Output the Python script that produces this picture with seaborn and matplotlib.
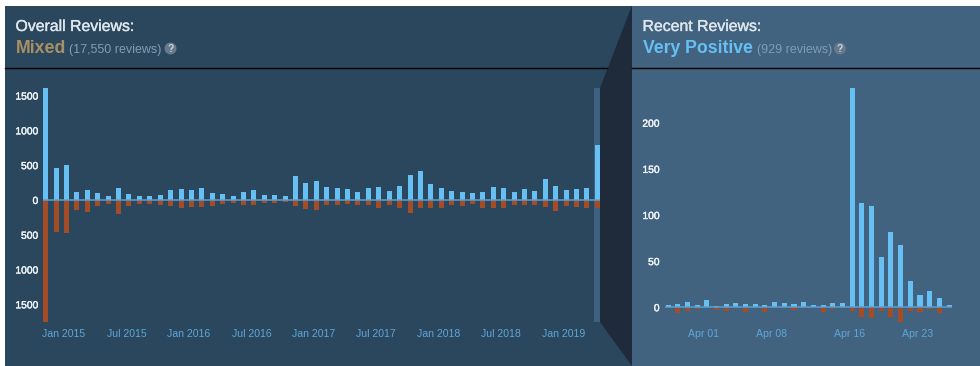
import matplotlib
matplotlib.use("Agg")
import matplotlib.pyplot as plt
import matplotlib.patheffects as pe
from matplotlib.patches import Polygon, Rectangle, Circle
import numpy as np
import pandas as pd
import seaborn as sns

overall_pos = [1613, 455, 498, 110, 139, 96, 53, 168, 81, 62, 53, 67, 139, 158, 139, 168, 100, 86, 62, 110,
               148, 72, 72, 53, 345, 244, 273, 192, 168, 153, 115, 177, 187, 125, 196, 364, 417, 225, 172, 125,
               110, 105, 115, 182, 168, 115, 153, 125, 297, 206, 139, 153, 168, 795]
overall_neg = [1750, 455, 479, 144, 172, 81, 62, 201, 91, 62, 62, 67, 81, 110, 100, 105, 86, 62, 38, 72,
               67, 38, 38, 34, 81, 129, 144, 77, 72, 53, 67, 72, 120, 67, 115, 182, 120, 110, 115, 77,
               81, 53, 110, 110, 115, 67, 72, 67, 96, 153, 81, 96, 115, 115]
overall_ticks = [2, 8, 14, 20, 26, 32, 38, 44, 50]
overall_labels = ["Jan 2015", "Jul 2015", "Jan 2016", "Jul 2016", "Jan 2017", "Jul 2017", "Jan 2018", "Jul 2018", "Jan 2019"]
overall_yticks = [-1500, -1000, -500, 0, 500, 1000, 1500]

recent_pos = [2, 3, 6, 2, 8, 1, 4, 5, 4, 4, 2, 6, 5, 4, 6, 2, 2, 5, 5, 238, 113, 110, 54, 82, 67, 28, 13, 18, 10, 2]
recent_neg = [1, 6, 4, 2, 1, 3, 4, 1, 5, 1, 5, 1, 1, 3, 1, 0, 5, 2, 1, 4, 11, 12, 4, 11, 16, 4, 5, 2, 6, 1]
recent_ticks = [4, 11, 19, 26]
recent_labels = ["Apr 01", "Apr 08", "Apr 16", "Apr 23"]
recent_yticks = [0, 50, 100, 150, 200]

BLUE, RUST = "#66c0f4", "#a34c25"
LEFT_BG, RIGHT_BG, WEDGE, BAND = "#2a475e", "#41637f", "#1f2b3b", "#3d6180"
W, H = 980, 366
FONT = ["Liberation Sans", "DejaVu Sans"]
plt.rcParams["font.family"] = FONT

fig = plt.figure(figsize=(W / 100, H / 100), dpi=100, facecolor="white")
bg = fig.add_axes([0, 0, 1, 1])
bg.set_xlim(0, W)
bg.set_ylim(H, 0)
bg.axis("off")
bg.add_patch(Rectangle((5, 5.5), 627, H, color=LEFT_BG, lw=0))
bg.add_patch(Rectangle((632, 5.5), W - 632, H, color=RIGHT_BG, lw=0))
bg.add_patch(Polygon([(632, 5.5), (600, 88), (600, 322), (632, 366)], color=WEDGE, lw=0, zorder=3))
bg.plot([5, 607], [68.2, 68.2], color="black", lw=1, zorder=4)
bg.plot([632, W], [68.2, 68.2], color="black", lw=1, zorder=4)


def panel(px_left, px_right, px_top, px_bottom, pos, neg, ticks, labels, yticks, ymin, ymax, width, shift, ypad):
    ax = fig.add_axes([px_left / W, 1 - px_bottom / H, (px_right - px_left) / W, (px_bottom - px_top) / H])
    ax.patch.set_alpha(0)
    idx = np.arange(len(pos))
    df = pd.DataFrame({"k": idx, "pos": pos, "neg": -np.array(neg)})
    sns.barplot(data=df, x="k", y="pos", color=BLUE, native_scale=True, width=width, saturation=1, ax=ax, zorder=3)
    sns.barplot(data=df, x="k", y="neg", color=RUST, native_scale=True, width=width, saturation=1, ax=ax, zorder=3)
    ax.hlines(0, -0.27, len(pos) - 0.73, color="#5a9fd0", lw=1.1, zorder=4)
    ax.set_xlim(-0.5, len(pos) - 0.5)
    ax.set_ylim(ymin, ymax)
    ax.set_xlabel("")
    ax.set_ylabel("")
    for s in ax.spines.values():
        s.set_visible(False)
    ax.set_xticks(np.array(ticks) - shift, labels)
    ax.set_yticks(yticks, [str(abs(v)) for v in yticks])
    ax.tick_params(axis="x", length=0, pad=5, labelsize=7.6, labelcolor="#5fa6d8")
    ax.tick_params(axis="y", length=0, pad=ypad, labelsize=7.4, labelcolor="#eef3f6")
    for t in ax.get_yticklabels():
        t.set_path_effects([pe.withStroke(linewidth=0.3, foreground="#eef3f6")])
    return ax


left = panel(40.5, 602.6, 87.7, 321.7, overall_pos, overall_neg, overall_ticks, overall_labels,
             overall_yticks, -1750, 1613, 0.48, 0.24, 1.6)
left.axvspan(52.67, 53.25, color=BAND, lw=0, zorder=1)

right = panel(663.2, 953.9, 87.7, 322, recent_pos, recent_neg, recent_ticks, recent_labels,
              recent_yticks, -16, 238, 0.52, 0.29, 2.6)


def header(x, title, verdict, vcolor, vsize, count, count_x, icon_x):
    t = bg.text(x, 26.5, title, color="#dfe6ec", fontsize=11.4, va="center", ha="left", zorder=5)
    t.set_path_effects([pe.withStroke(linewidth=0.25, foreground="#dfe6ec")])
    bg.text(x, 48.5, verdict, color=vcolor, fontsize=vsize, fontweight="bold", va="center", ha="left", zorder=5)
    bg.text(count_x, 50, count, color="#7f9db5", fontsize=9, va="center", ha="left", zorder=5)
    bg.add_patch(Circle((icon_x, 48.5), 6, color="#67798a", lw=0, zorder=5))
    bg.text(icon_x, 48.5, "?", color="#c6d4df", fontsize=7.5, fontweight="bold", va="center", ha="center", zorder=6)


header(15.5, "Overall Reviews:", "Mixed", "#a98f65", 12.8, "(17,550 reviews)", 69, 170.5)
header(642.5, "Recent Reviews:", "Very Positive", "#66c0f4", 12.7, "(929 reviews)", 756.5, 840)

fig.savefig("out.png", dpi=100, facecolor="white")
